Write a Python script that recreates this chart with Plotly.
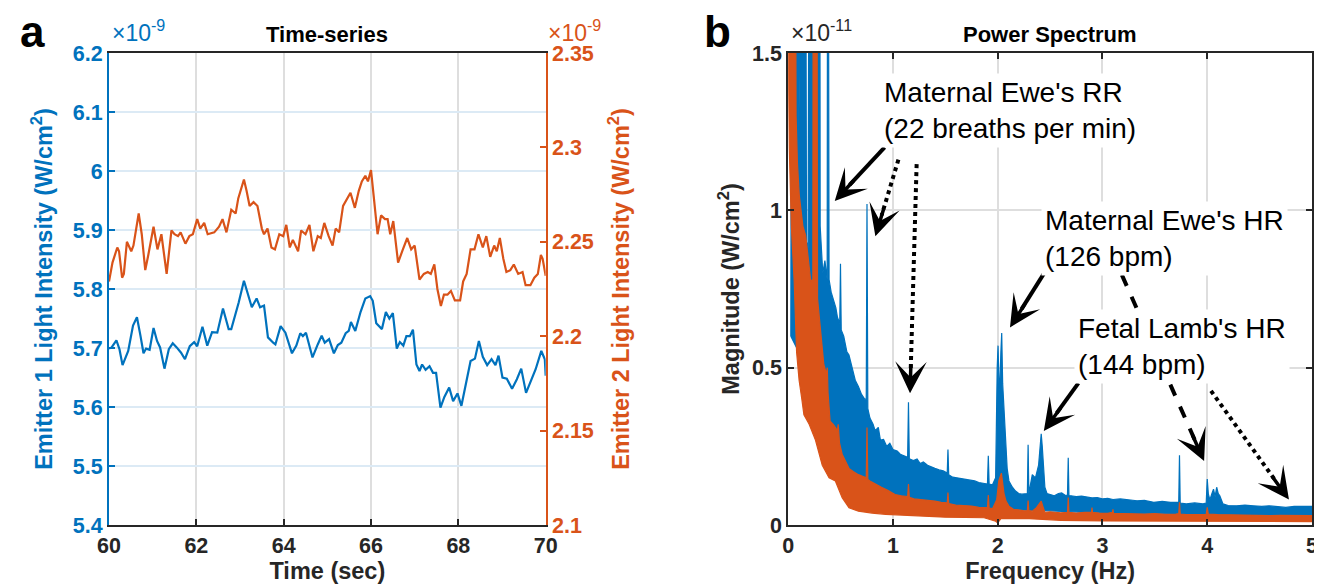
import plotly.graph_objects as go

BLUE = '#0072BD'
ORANGE = '#D95319'
DARK = '#262626'
FONT = 'Liberation Sans, Arial, sans-serif'

# ---------------- Panel a: time series (values in units of 1e-9 W/cm^2) -------------
t_e1 = [60.00, 60.06, 60.17, 60.24, 60.31, 60.44, 60.55, 60.64, 60.72, 60.79,
        60.85, 60.93, 61.02, 61.10, 61.17, 61.27, 61.37, 61.46, 61.55, 61.65,
        61.74, 61.85, 61.95, 62.02, 62.14, 62.25, 62.36, 62.48, 62.61, 62.74,
        62.80, 62.97, 63.09, 63.17, 63.27, 63.38, 63.46, 63.55, 63.64, 63.76,
        63.81, 63.93, 64.04, 64.19, 64.29, 64.38, 64.44, 64.51, 64.66, 64.78,
        64.87, 64.94, 65.04, 65.15, 65.24, 65.32, 65.42, 65.49, 65.54, 65.64,
        65.76, 65.87, 65.98, 66.04, 66.12, 66.25, 66.34, 66.42, 66.50, 66.59,
        66.66, 66.74, 66.81, 66.89, 66.96, 67.04, 67.11, 67.17, 67.25, 67.34,
        67.42, 67.49, 67.59, 67.68, 67.79, 67.88, 67.98, 68.07, 68.17, 68.28,
        68.38, 68.47, 68.56, 68.66, 68.76, 68.85, 68.92, 69.01, 69.11, 69.23,
        69.34, 69.44, 69.55, 69.68, 69.77, 69.90, 69.98, 70.00]
e1 = [5.699, 5.701, 5.713, 5.698, 5.671, 5.695, 5.738, 5.752, 5.721, 5.691,
      5.699, 5.697, 5.734, 5.712, 5.701, 5.665, 5.698, 5.708, 5.701, 5.692,
      5.681, 5.703, 5.710, 5.703, 5.736, 5.704, 5.727, 5.726, 5.767, 5.732,
      5.732, 5.777, 5.814, 5.794, 5.769, 5.784, 5.769, 5.772, 5.718, 5.709,
      5.706, 5.737, 5.726, 5.691, 5.704, 5.725, 5.720, 5.726, 5.684, 5.706,
      5.721, 5.709, 5.715, 5.691, 5.705, 5.709, 5.725, 5.729, 5.744, 5.729,
      5.761, 5.784, 5.788, 5.780, 5.742, 5.732, 5.761, 5.750, 5.759, 5.699,
      5.710, 5.704, 5.720, 5.720, 5.731, 5.672, 5.661, 5.672, 5.663, 5.669,
      5.658, 5.658, 5.599, 5.617, 5.633, 5.610, 5.623, 5.602, 5.637, 5.678,
      5.682, 5.712, 5.685, 5.671, 5.681, 5.671, 5.687, 5.650, 5.648, 5.631,
      5.647, 5.665, 5.624, 5.647, 5.664, 5.695, 5.681, 5.653]

t_e2 = [60.00, 60.08, 60.19, 60.23, 60.30, 60.34, 60.41, 60.51, 60.56, 60.68,
        60.75, 60.83, 60.90, 61.02, 61.11, 61.20, 61.32, 61.43, 61.50, 61.58,
        61.64, 61.75, 61.84, 61.92, 62.02, 62.09, 62.18, 62.26, 62.41, 62.52,
        62.60, 62.69, 62.80, 62.90, 62.96, 63.02, 63.09, 63.15, 63.22, 63.31,
        63.40, 63.50, 63.55, 63.63, 63.72, 63.80, 63.90, 63.99, 64.06, 64.14,
        64.21, 64.33, 64.40, 64.50, 64.59, 64.68, 64.78, 64.85, 64.93, 65.03,
        65.12, 65.19, 65.27, 65.36, 65.46, 65.53, 65.63, 65.72, 65.79, 65.87,
        65.93, 66.00, 66.08, 66.15, 66.23, 66.32, 66.38, 66.44, 66.51, 66.62,
        66.73, 66.83, 66.92, 67.00, 67.11, 67.21, 67.30, 67.37, 67.45, 67.52,
        67.60, 67.67, 67.75, 67.83, 67.92, 68.04, 68.11, 68.19, 68.28, 68.37,
        68.46, 68.56, 68.64, 68.73, 68.82, 68.88, 68.95, 69.03, 69.10, 69.19,
        69.27, 69.37, 69.47, 69.54, 69.65, 69.74, 69.82, 69.89, 69.93, 70.00]
e2 = [2.229, 2.239, 2.247, 2.245, 2.231, 2.233, 2.250, 2.245, 2.248, 2.265,
      2.254, 2.235, 2.243, 2.258, 2.246, 2.254, 2.233, 2.256, 2.254, 2.253,
      2.255, 2.249, 2.253, 2.254, 2.262, 2.257, 2.260, 2.254, 2.255, 2.258,
      2.262, 2.255, 2.267, 2.265, 2.273, 2.278, 2.283, 2.277, 2.269, 2.271,
      2.269, 2.257, 2.254, 2.257, 2.247, 2.246, 2.254, 2.253, 2.259, 2.247,
      2.251, 2.245, 2.256, 2.254, 2.259, 2.245, 2.253, 2.252, 2.260, 2.253,
      2.248, 2.257, 2.255, 2.269, 2.273, 2.276, 2.268, 2.277, 2.282, 2.285,
      2.282, 2.288, 2.270, 2.254, 2.264, 2.262, 2.262, 2.254, 2.261, 2.239,
      2.246, 2.252, 2.246, 2.248, 2.230, 2.233, 2.234, 2.233, 2.238, 2.225,
      2.216, 2.222, 2.222, 2.224, 2.219, 2.219, 2.229, 2.233, 2.246, 2.246,
      2.254, 2.247, 2.253, 2.242, 2.248, 2.245, 2.252, 2.241, 2.234, 2.235,
      2.238, 2.233, 2.234, 2.227, 2.227, 2.231, 2.233, 2.243, 2.241, 2.232]

e1_ticks = [5.4, 5.5, 5.6, 5.7, 5.8, 5.9, 6.0, 6.1, 6.2]
e1_ticktext = ['5.4', '5.5', '5.6', '5.7', '5.8', '5.9', '6', '6.1', '6.2']
e2_ticks = [2.1, 2.15, 2.2, 2.25, 2.3, 2.35]
e2_ticktext = ['2.1', '2.15', '2.2', '2.25', '2.3', '2.35']
t_ticks = [60, 62, 64, 66, 68, 70]

# ---------------- Panel b: power spectrum envelopes (units of 1e-11 W/cm^2) ----------
blue_up_f = [0.025, 0.035, 0.09, 0.10, 0.11, 0.16, 0.175, 0.19, 0.205, 0.30,
             0.305, 0.33, 0.35, 0.372, 0.378, 0.384, 0.39,
             0.41, 0.436, 0.455, 0.47, 0.492, 0.499, 0.506, 0.53, 0.56, 0.58,
             0.61, 0.64, 0.67, 0.70, 0.73, 0.745, 0.752, 0.760, 0.78, 0.81,
             0.83, 0.86, 0.88, 0.91, 0.94, 0.97, 1.00, 1.04, 1.07, 1.10,
             1.14, 1.148, 1.156, 1.195, 1.23, 1.26, 1.29, 1.33, 1.36, 1.40,
             1.44, 1.48, 1.518, 1.525, 1.532, 1.57, 1.61, 1.65, 1.70, 1.74,
             1.78, 1.82, 1.86, 1.902, 1.91, 1.918, 1.95, 1.98, 1.995, 2.003,
             2.012, 2.019, 2.03, 2.038, 2.047, 2.057, 2.066, 2.075, 2.09, 2.107,
             2.14, 2.17, 2.20, 2.23, 2.26, 2.283, 2.29, 2.297, 2.33, 2.36,
             2.39, 2.405, 2.415, 2.425, 2.437, 2.45, 2.47, 2.50, 2.54, 2.58,
             2.61, 2.64, 2.666, 2.673, 2.68, 2.70, 2.75, 2.80, 2.86, 2.90,
             2.95, 3.00, 3.05, 3.10, 3.17, 3.25, 3.33, 3.40, 3.49, 3.57,
             3.65, 3.728, 3.735, 3.742, 3.80, 3.88, 3.96, 3.99, 4.00, 4.01,
             4.025, 4.045, 4.06, 4.075, 4.09, 4.105, 4.12, 4.15, 4.20, 4.28,
             4.36, 4.44, 4.52, 4.59, 4.67, 4.75, 4.83, 4.91, 5.00]
blue_up = [0.6, 3.0, 3.0, 1.23, 3.0, 3.0, 0.9, 0.88, 3.0, 3.0,
           0.95, 0.80, 0.84, 0.78, 3.0, 3.0, 0.78,
           0.74, 0.71, 0.69, 0.66, 0.64, 0.83, 0.62, 0.60, 0.55, 0.54,
           0.50, 0.46, 0.44, 0.415, 0.40, 0.40, 1.02, 0.37, 0.34, 0.32,
           0.30, 0.31, 0.27, 0.272, 0.25, 0.26, 0.24, 0.235, 0.225, 0.22,
           0.215, 0.39, 0.21, 0.205, 0.21, 0.195, 0.20, 0.19, 0.185, 0.18,
           0.175, 0.172, 0.165, 0.24, 0.16, 0.152, 0.15, 0.148, 0.145, 0.142,
           0.14, 0.135, 0.132, 0.13, 0.22, 0.13, 0.128, 0.15, 0.50, 0.57,
           0.45, 0.43, 0.55, 0.61, 0.45, 0.39, 0.34, 0.27, 0.18, 0.14,
           0.12, 0.108, 0.10, 0.098, 0.10, 0.10, 0.255, 0.10, 0.16, 0.15,
           0.19, 0.24, 0.29, 0.25, 0.19, 0.12, 0.10, 0.098, 0.093, 0.10,
           0.102, 0.095, 0.094, 0.214, 0.093, 0.093, 0.09, 0.092, 0.088, 0.086,
           0.087, 0.083, 0.085, 0.081, 0.083, 0.079, 0.077, 0.078, 0.072, 0.075,
           0.072, 0.072, 0.222, 0.07, 0.067, 0.07, 0.067, 0.07, 0.146, 0.10,
           0.08, 0.10, 0.114, 0.09, 0.12, 0.10, 0.093, 0.067, 0.062, 0.061,
           0.063, 0.061, 0.059, 0.061, 0.058, 0.056, 0.059, 0.059, 0.059]
blue_lo_f = [0.025, 0.1, 0.2, 0.3, 0.4, 0.5, 0.6, 0.7, 0.8, 1.0,
             1.25, 1.5, 1.75, 2.0, 2.5, 3.0, 3.5, 4.0, 4.5, 5.0]
blue_lo = [0.6, 0.55, 0.40, 0.30, 0.22, 0.17, 0.14, 0.12, 0.10, 0.085,
           0.07, 0.06, 0.055, 0.05, 0.045, 0.038, 0.035, 0.033, 0.03, 0.03]

orange_up_f = [0.0, 0.06, 0.075, 0.088, 0.105, 0.12, 0.14, 0.167, 0.19, 0.215,
               0.235, 0.242, 0.27, 0.28, 0.294, 0.32, 0.34, 0.365, 0.373, 0.38,
               0.40, 0.43, 0.45, 0.47, 0.477, 0.49, 0.515, 0.55, 0.58, 0.62,
               0.67, 0.71, 0.745, 0.752, 0.76, 0.78, 0.83, 0.89, 0.95, 1.02,
               1.08, 1.14, 1.148, 1.156, 1.20, 1.24, 1.30, 1.35, 1.40, 1.46,
               1.518, 1.525, 1.532, 1.60, 1.68, 1.75, 1.82, 1.902, 1.91, 1.918,
               1.95, 1.99, 2.01, 2.035, 2.06, 2.08, 2.107, 2.15, 2.20, 2.25,
               2.283, 2.29, 2.297, 2.33, 2.37, 2.40, 2.415, 2.43, 2.45, 2.50,
               2.55, 2.60, 2.666, 2.673, 2.68, 2.75, 2.83, 2.895, 2.90, 2.905,
               2.97, 3.05, 3.095, 3.10, 3.105, 3.20, 3.30, 3.40, 3.50, 3.60,
               3.70, 3.728, 3.735, 3.742, 3.80, 3.90, 3.99, 4.00, 4.01, 4.10,
               4.20, 4.30, 4.40, 4.50, 4.60, 4.70, 4.80, 4.90, 5.00]
orange_up = [3.0, 3.0, 1.3, 1.15, 1.05, 1.01, 0.95, 0.92, 0.85, 0.775,
             0.78, 3.0, 3.0, 0.72, 0.67, 0.58, 0.51, 0.48, 0.50, 0.42,
             0.33, 0.32, 0.31, 0.30, 0.32, 0.26, 0.225, 0.20, 0.18, 0.17,
             0.16, 0.155, 0.15, 0.31, 0.145, 0.14, 0.13, 0.12, 0.11, 0.097,
             0.093, 0.09, 0.13, 0.088, 0.083, 0.082, 0.08, 0.077, 0.076, 0.072,
             0.07, 0.103, 0.068, 0.063, 0.062, 0.06, 0.056, 0.055, 0.095, 0.054,
             0.052, 0.08, 0.14, 0.165, 0.10, 0.075, 0.06, 0.05, 0.048, 0.045,
             0.046, 0.078, 0.046, 0.044, 0.055, 0.07, 0.076, 0.06, 0.04, 0.042,
             0.04, 0.039, 0.04, 0.087, 0.04, 0.038, 0.04, 0.04, 0.055, 0.04,
             0.038, 0.037, 0.04, 0.05, 0.037, 0.036, 0.036, 0.035, 0.036, 0.034,
             0.035, 0.036, 0.072, 0.035, 0.033, 0.034, 0.034, 0.056, 0.035, 0.033,
             0.032, 0.032, 0.031, 0.031, 0.030, 0.031, 0.030, 0.030, 0.030]
orange_lo_f = [0.0, 0.01, 0.03, 0.057, 0.08, 0.104, 0.13, 0.15, 0.20, 0.26,
               0.325, 0.39, 0.45, 0.515, 0.58, 0.67, 0.80, 0.93, 1.1, 1.24,
               1.5, 1.87, 1.98, 2.0, 2.03, 2.3, 2.6, 3.0, 3.5, 4.0, 4.5, 5.0]
orange_lo = [1.5, 1.2, 0.95, 0.775, 0.55, 0.46, 0.40, 0.35, 0.32, 0.27,
             0.19, 0.15, 0.14, 0.087, 0.055, 0.044, 0.038, 0.034, 0.031, 0.029,
             0.025, 0.023, 0.012, 0.007, 0.02, 0.02, 0.015, 0.013, 0.012, 0.012, 0.011, 0.011]

f_ticks = [0, 1, 2, 3, 4, 5]
m_ticks = [0, 0.5, 1, 1.5]
m_ticktext = ['0', '0.5', '1', '1.5']

fig = go.Figure()

# time series
fig.add_trace(go.Scatter(x=t_e1, y=e1, mode='lines', line=dict(color=BLUE, width=2.2),
                         xaxis='x', yaxis='y'))
fig.add_trace(go.Scatter(x=t_e2, y=e2, mode='lines', line=dict(color=ORANGE, width=2.2),
                         xaxis='x', yaxis='y2'))


# spectrum bands (closed polygons built from envelope arrays)
def band(fu, yu, fl, yl, color):
    return go.Scatter(x=list(fu) + list(fl)[::-1], y=list(yu) + list(yl)[::-1],
                      mode='lines', fill='toself', fillcolor=color,
                      line=dict(color=color, width=1.2), xaxis='x2', yaxis='y3')


fig.add_trace(band(blue_up_f, blue_up, blue_lo_f, blue_lo, BLUE))
fig.add_trace(band(orange_up_f, orange_up, orange_lo_f, orange_lo, ORANGE))

TICK = 21.5
TITLE = 23.5
tickfont = dict(family=FONT, size=TICK, color=DARK, weight='bold')
titlefont = dict(family=FONT, size=TITLE, color=DARK, weight='bold')

fig.update_layout(
    width=1322, height=584,
    margin=dict(l=101, r=6, t=45, b=67),
    paper_bgcolor='white', plot_bgcolor='white',
    showlegend=False,
    font=dict(family=FONT),
    xaxis=dict(domain=[0, 0.363], range=[60, 70], tickvals=t_ticks, anchor='y',
               showgrid=True, gridcolor='#DEDEDE', gridwidth=1.5, zeroline=False,
               showline=True, linecolor=DARK, linewidth=1.5, mirror=True,
               ticks='inside', ticklen=6, tickcolor=DARK, tickwidth=1.5,
               tickfont=tickfont,
               title=dict(text='Time (sec)', font=titlefont, standoff=5)),
    yaxis=dict(range=[5.4, 6.2], tickvals=e1_ticks, ticktext=e1_ticktext, anchor='x',
               showgrid=True, gridcolor='#DCEAF5', gridwidth=1.5, zeroline=False,
               showline=True, linecolor=BLUE, linewidth=2,
               ticks='inside', ticklen=6, tickcolor=BLUE, tickwidth=1.5,
               tickfont=dict(family=FONT, size=TICK, color=BLUE, weight='bold'),
               title=dict(text='Emitter 1 Light Intensity (W/cm<sup>2</sup>)',
                          font=dict(family=FONT, size=TITLE, color=BLUE, weight='bold'),
                          standoff=14)),
    yaxis2=dict(range=[2.1, 2.35], tickvals=e2_ticks, ticktext=e2_ticktext,
                overlaying='y', side='right', anchor='x',
                showgrid=False, zeroline=False,
                showline=True, linecolor=ORANGE, linewidth=2,
                ticks='inside', ticklen=6, tickcolor=ORANGE, tickwidth=1.5,
                tickfont=dict(family=FONT, size=TICK, color=ORANGE, weight='bold'),
                title=dict(text='Emitter 2 Light Intensity (W/cm<sup>2</sup>)',
                           font=dict(family=FONT, size=TITLE, color=ORANGE, weight='bold'),
                           standoff=20)),
    xaxis2=dict(domain=[0.5646, 1.0], range=[0, 5], tickvals=f_ticks, anchor='y3',
                showgrid=True, gridcolor='#DEDEDE', gridwidth=1.5, zeroline=False,
                showline=True, linecolor=DARK, linewidth=2, mirror='ticks',
                ticks='inside', ticklen=6, tickcolor=DARK, tickwidth=1.5,
                tickfont=tickfont,
                title=dict(text='Frequency (Hz)', font=titlefont, standoff=5)),
    yaxis3=dict(range=[0, 1.5], tickvals=m_ticks, ticktext=m_ticktext, anchor='x2',
                showgrid=True, gridcolor='#DEDEDE', gridwidth=1.5, zeroline=False,
                showline=True, linecolor=DARK, linewidth=2, mirror='ticks',
                ticks='inside', ticklen=6, tickcolor=DARK, tickwidth=1.5,
                tickfont=tickfont,
                title=dict(text='Magnitude (W/cm<sup>2</sup>)', font=titlefont, standoff=6)),
)

annos = []
# titles / panel letters / exponents
annos.append(dict(text='<b>Time-series</b>', xref='paper', yref='paper', x=0.1815, y=1.04,
                  showarrow=False, font=dict(family=FONT, size=22, color='black'),
                  xanchor='center', yanchor='middle'))
annos.append(dict(text='<b>Power Spectrum</b>', xref='paper', yref='paper', x=0.7823, y=1.04,
                  showarrow=False, font=dict(family=FONT, size=22, color='black'),
                  xanchor='center', yanchor='middle'))
annos.append(dict(text='<b>a</b>', xref='paper', yref='paper', x=-0.076, y=1.045,
                  showarrow=False, font=dict(family=FONT, size=44, color='black'),
                  xanchor='left', yanchor='middle'))
annos.append(dict(text='<b>b</b>', xref='paper', yref='paper', x=0.493, y=1.045,
                  showarrow=False, font=dict(family=FONT, size=44, color='black'),
                  xanchor='left', yanchor='middle'))
annos.append(dict(text='\u00d710<sup>-9</sup>', xref='paper', yref='paper', x=0.001, y=1.047,
                  showarrow=False, font=dict(family=FONT, size=23, color=BLUE),
                  xanchor='left', yanchor='middle'))
annos.append(dict(text='\u00d710<sup>-9</sup>', xref='paper', yref='paper', x=0.3635, y=1.047,
                  showarrow=False, font=dict(family=FONT, size=23, color=ORANGE),
                  xanchor='left', yanchor='middle'))
annos.append(dict(text='\u00d710<sup>-11</sup>', xref='paper', yref='paper', x=0.5655, y=1.047,
                  showarrow=False, font=dict(family=FONT, size=23, color=DARK),
                  xanchor='left', yanchor='middle'))

# arrows (tail -> tip, in spectrum data coordinates)
PX_F = 529 / 5.0
PX_M = 472 / 1.5
arrows = [
    ((0.92, 1.20), (0.444, 1.03), 'solid'),
    ((1.052, 1.161), (0.832, 0.918), 'dot'),
    ((1.226, 1.147), (1.163, 0.419), 'dot'),
    ((2.439, 0.798), (2.117, 0.628), 'solid'),
    ((3.185, 0.795), (3.97, 0.203), 'dash'),
    ((2.77, 0.451), (2.44, 0.299), 'solid'),
    ((4.036, 0.426), (4.78, 0.081), 'dot'),
]
shapes = []
for (tf, tm), (hf, hm), dash in arrows:
    dxp = (hf - tf) * PX_F
    dyp = (hm - tm) * PX_M
    L = (dxp ** 2 + dyp ** 2) ** 0.5
    ux, uy = dxp / L, dyp / L
    ef = hf - ux * 22 / PX_F
    em = hm - uy * 22 / PX_M
    shapes.append(dict(type='line', xref='x2', yref='y3', x0=tf, y0=tm, x1=ef, y1=em,
                       line=dict(color='black', width=4, dash=dash)))
    annos.append(dict(x=hf, y=hm, xref='x2', yref='y3', text='', showarrow=True,
                      ax=-ux * 30, ay=uy * 30, arrowhead=3, arrowsize=1.5,
                      arrowwidth=3.5, arrowcolor='black', standoff=0))

label_font = dict(family=FONT, size=28, color='black')
annos.append(dict(text="Maternal Ewe's RR<br>(22 breaths per min)", xref='x2', yref='y3',
                  x=0.879, y=1.318, xanchor='left', yanchor='middle', align='left',
                  showarrow=False, font=label_font, bgcolor='white', borderpad=3))
annos.append(dict(text="Maternal Ewe's HR<br>(126 bpm)", xref='x2', yref='y3',
                  x=2.41, y=0.909, xanchor='left', yanchor='middle', align='left',
                  showarrow=False, font=label_font, bgcolor='white', borderpad=3))
annos.append(dict(text="Fetal Lamb's HR<br>(144 bpm)", xref='x2', yref='y3',
                  x=2.73, y=0.566, xanchor='left', yanchor='middle', align='left',
                  showarrow=False, font=label_font, bgcolor='white', borderpad=3))

fig.update_layout(annotations=annos, shapes=shapes)
fig.write_html('out.html')
